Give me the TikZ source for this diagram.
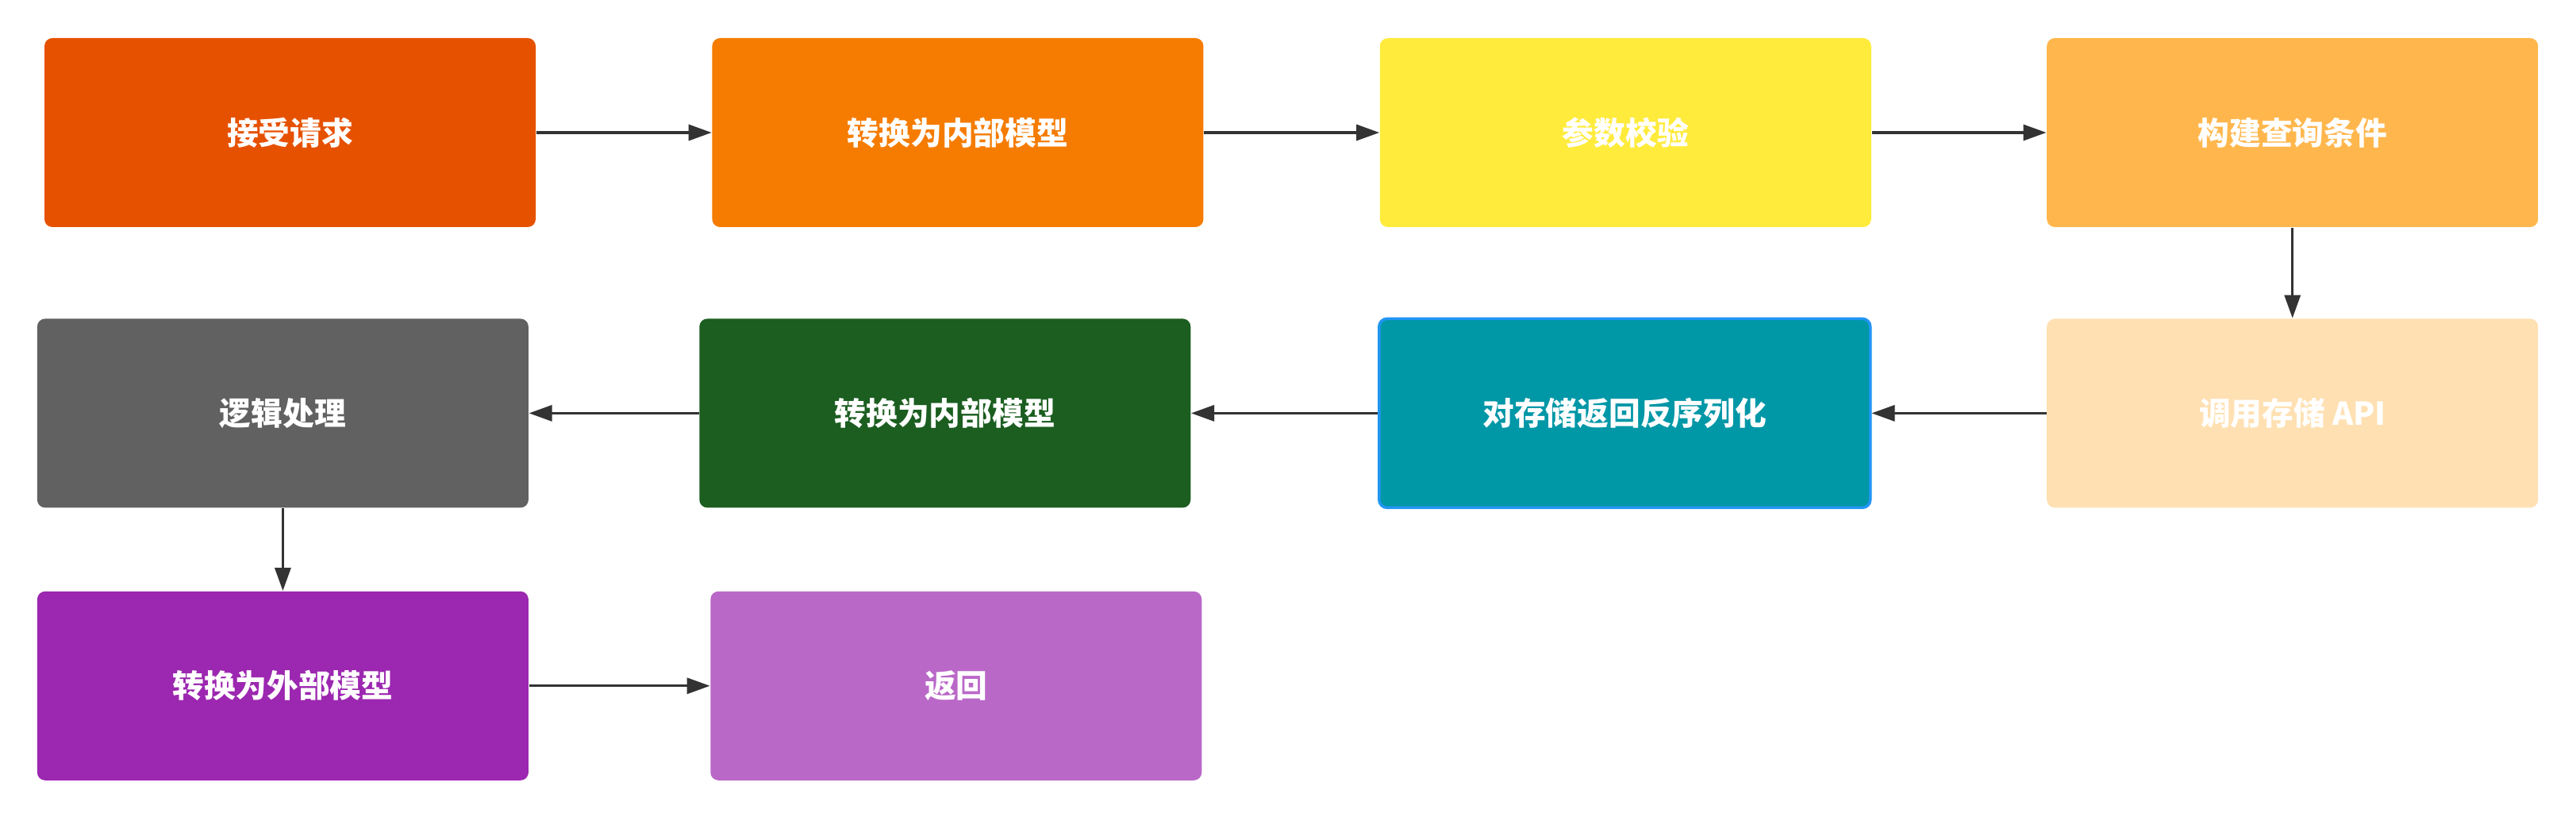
\documentclass[tikz,border=0pt]{standalone}
\usepackage{fontspec}
\usepackage{tikz}
\usetikzlibrary{positioning, arrows.meta}

\newfontfamily\cjk{Noto Sans CJK SC}

\definecolor{cReq}{HTML}{E65100}
\definecolor{cToIn}{HTML}{F57C00}
\definecolor{cCheck}{HTML}{FFEB3B}
\definecolor{cQuery}{HTML}{FFB74D}
\definecolor{cApi}{HTML}{FFE0B2}
\definecolor{cDeser}{HTML}{0097A7}
\definecolor{cDeserBd}{HTML}{2196F3}
\definecolor{cToIn2}{HTML}{1B5E20}
\definecolor{cLogic}{HTML}{616161}
\definecolor{cToOut}{HTML}{9C27B0}
\definecolor{cRet}{HTML}{BA68C8}
\definecolor{cArrow}{HTML}{333333}

\begin{document}
\begin{tikzpicture}[
    blk/.style={rectangle, rounded corners=1mm, minimum width=6.19cm, minimum height=2.38cm, inner sep=0pt,
                text=white, font=\cjk\bfseries\fontsize{11.3}{13}\selectfont},
    flow/.style={draw=cArrow, line width=0.9pt, -{Triangle[length=2.9mm, width=2mm]}},
    ]
    \useasboundingbox (0,0) rectangle (32.46,-10.34);
    % Row 1
    \node[blk, fill=cReq] at (3.655,-1.67) (req) {接受请求};
    \node[blk, fill=cToIn, right=2.21cm of req] (toin) {转换为内部模型};
    \node[blk, fill=cCheck, right=2.21cm of toin] (check) {参数校验};
    \node[blk, fill=cQuery, right=2.2cm of check] (query) {构建查询条件};
    % Row 2
    \node[blk, fill=cApi, below=1.14cm of query] (api) {调用存储 API};
    \node[blk, fill=cDeser, draw=cDeserBd, line width=1pt, left=2.2cm of api] (deser) {对存储返回反序列化};
    \node[blk, fill=cToIn2, left=2.35cm of deser] (toin2) {转换为内部模型};
    \node[blk, fill=cLogic, left=2.14cm of toin2] (logic) {逻辑处理};
    % Row 3
    \node[blk, fill=cToOut, below=1.04cm of logic] (toout) {转换为外部模型};
    \node[blk, fill=cRet, right=2.28cm of toout] (ret) {返回};

    % Edges
    \draw[flow] (req) -- (toin);
    \draw[flow] (toin) -- (check);
    \draw[flow] (check) -- (query);
    \draw[flow] (query) -- (api);
    \draw[flow] (api) -- (deser);
    \draw[flow] (deser) -- (toin2);
    \draw[flow] (toin2) -- (logic);
    \draw[flow] (logic) -- (toout);
    \draw[flow] (toout) -- (ret);
\end{tikzpicture}
\end{document}
